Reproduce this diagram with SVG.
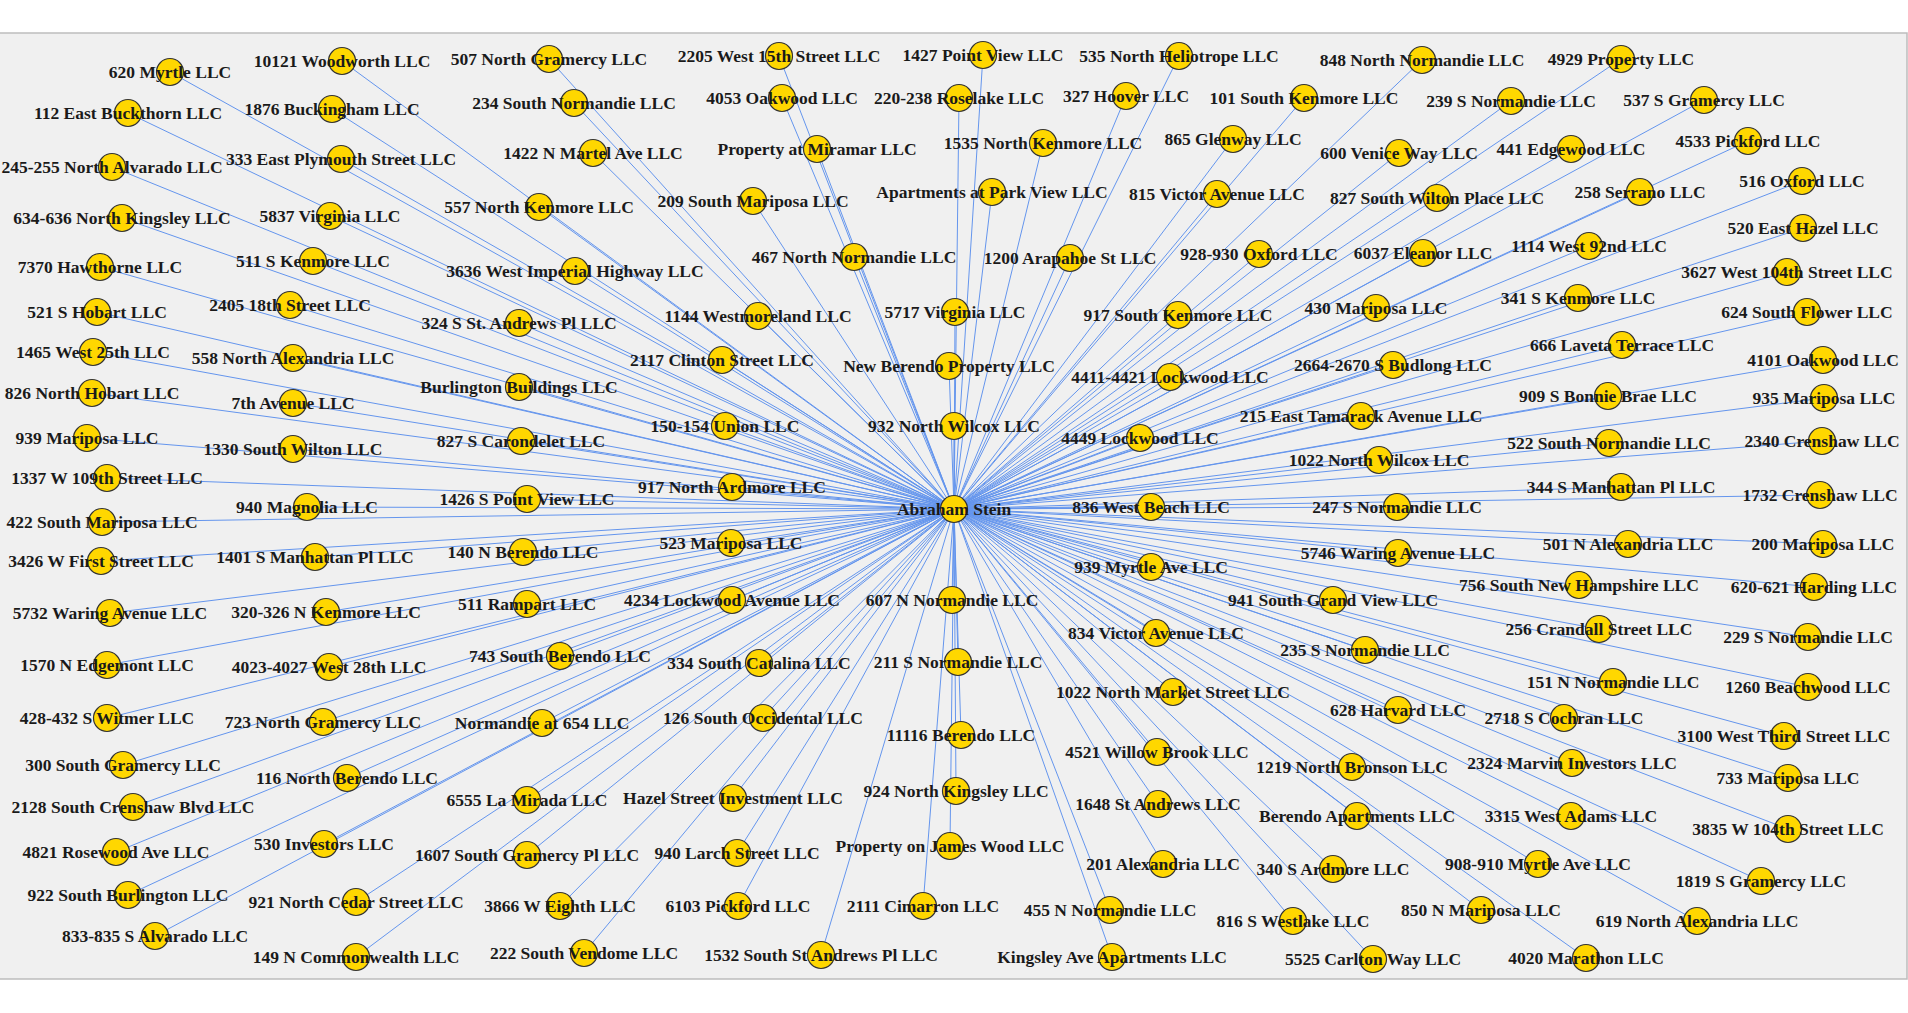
<svg xmlns="http://www.w3.org/2000/svg" width="1908" height="1013" viewBox="0 0 1908 1013">
<style>
.bg{fill:#f0f0f0;stroke:#bdbdbd;stroke-width:1.5}
.edges line{stroke:#6495ed;stroke-width:1}
.node circle{fill:#ffd700;stroke:#333;stroke-width:1.2}
.node text{font-family:"Liberation Serif","Times New Roman",serif;font-weight:bold;font-size:17.5px;text-anchor:middle;fill:#1a1a1a}
</style>
<rect width="1908" height="1013" fill="#ffffff"/>
<rect class="bg" x="-2" y="33" width="1909" height="946"/>
<g id="connectors" class="edges">
<line x1="954" y1="509" x2="170" y2="72"/>
<line x1="954" y1="509" x2="342" y2="61"/>
<line x1="954" y1="509" x2="128" y2="113"/>
<line x1="954" y1="509" x2="332" y2="109"/>
<line x1="954" y1="509" x2="112" y2="167"/>
<line x1="954" y1="509" x2="341" y2="159"/>
<line x1="954" y1="509" x2="122" y2="218"/>
<line x1="954" y1="509" x2="330" y2="216"/>
<line x1="954" y1="509" x2="100" y2="267"/>
<line x1="954" y1="509" x2="313" y2="261"/>
<line x1="954" y1="509" x2="97" y2="312"/>
<line x1="954" y1="509" x2="290" y2="305"/>
<line x1="954" y1="509" x2="93" y2="352"/>
<line x1="954" y1="509" x2="293" y2="358"/>
<line x1="954" y1="509" x2="549" y2="59"/>
<line x1="954" y1="509" x2="779" y2="56"/>
<line x1="954" y1="509" x2="574" y2="103"/>
<line x1="954" y1="509" x2="782" y2="98"/>
<line x1="954" y1="509" x2="593" y2="153"/>
<line x1="954" y1="509" x2="817" y2="149"/>
<line x1="954" y1="509" x2="539" y2="207"/>
<line x1="954" y1="509" x2="753" y2="201"/>
<line x1="954" y1="509" x2="854" y2="257"/>
<line x1="954" y1="509" x2="575" y2="271"/>
<line x1="954" y1="509" x2="758" y2="316"/>
<line x1="954" y1="509" x2="519" y2="323"/>
<line x1="954" y1="509" x2="722" y2="360"/>
<line x1="954" y1="509" x2="983" y2="55"/>
<line x1="954" y1="509" x2="1179" y2="56"/>
<line x1="954" y1="509" x2="1422" y2="60"/>
<line x1="954" y1="509" x2="959" y2="98"/>
<line x1="954" y1="509" x2="1126" y2="96"/>
<line x1="954" y1="509" x2="1304" y2="98"/>
<line x1="954" y1="509" x2="1043" y2="143"/>
<line x1="954" y1="509" x2="1233" y2="139"/>
<line x1="954" y1="509" x2="1399" y2="153"/>
<line x1="954" y1="509" x2="992" y2="192"/>
<line x1="954" y1="509" x2="1217" y2="194"/>
<line x1="954" y1="509" x2="1437" y2="198"/>
<line x1="954" y1="509" x2="1070" y2="258"/>
<line x1="954" y1="509" x2="1259" y2="254"/>
<line x1="954" y1="509" x2="1423" y2="253"/>
<line x1="954" y1="509" x2="955" y2="312"/>
<line x1="954" y1="509" x2="1178" y2="315"/>
<line x1="954" y1="509" x2="1376" y2="308"/>
<line x1="954" y1="509" x2="1621" y2="59"/>
<line x1="954" y1="509" x2="1511" y2="101"/>
<line x1="954" y1="509" x2="1704" y2="100"/>
<line x1="954" y1="509" x2="1571" y2="149"/>
<line x1="954" y1="509" x2="1748" y2="141"/>
<line x1="954" y1="509" x2="1640" y2="192"/>
<line x1="954" y1="509" x2="1802" y2="181"/>
<line x1="954" y1="509" x2="1803" y2="228"/>
<line x1="954" y1="509" x2="1589" y2="246"/>
<line x1="954" y1="509" x2="1787" y2="272"/>
<line x1="954" y1="509" x2="1578" y2="298"/>
<line x1="954" y1="509" x2="1807" y2="312"/>
<line x1="954" y1="509" x2="1622" y2="345"/>
<line x1="954" y1="509" x2="1823" y2="360"/>
<line x1="954" y1="509" x2="1393" y2="365"/>
<line x1="954" y1="509" x2="949" y2="366"/>
<line x1="954" y1="509" x2="519" y2="387"/>
<line x1="954" y1="509" x2="725" y2="426"/>
<line x1="954" y1="509" x2="954" y2="426"/>
<line x1="954" y1="509" x2="521" y2="441"/>
<line x1="954" y1="509" x2="732" y2="487"/>
<line x1="954" y1="509" x2="527" y2="499"/>
<line x1="954" y1="509" x2="731" y2="543"/>
<line x1="954" y1="509" x2="523" y2="552"/>
<line x1="954" y1="509" x2="732" y2="600"/>
<line x1="954" y1="509" x2="527" y2="604"/>
<line x1="954" y1="509" x2="952" y2="600"/>
<line x1="954" y1="509" x2="560" y2="656"/>
<line x1="954" y1="509" x2="759" y2="663"/>
<line x1="954" y1="509" x2="958" y2="662"/>
<line x1="954" y1="509" x2="1170" y2="377"/>
<line x1="954" y1="509" x2="1361" y2="416"/>
<line x1="954" y1="509" x2="1140" y2="438"/>
<line x1="954" y1="509" x2="1379" y2="460"/>
<line x1="954" y1="509" x2="1151" y2="507"/>
<line x1="954" y1="509" x2="1397" y2="507"/>
<line x1="954" y1="509" x2="1151" y2="567"/>
<line x1="954" y1="509" x2="1398" y2="553"/>
<line x1="954" y1="509" x2="1333" y2="600"/>
<line x1="954" y1="509" x2="1156" y2="633"/>
<line x1="954" y1="509" x2="1365" y2="650"/>
<line x1="954" y1="509" x2="1173" y2="692"/>
<line x1="954" y1="509" x2="1608" y2="396"/>
<line x1="954" y1="509" x2="1824" y2="398"/>
<line x1="954" y1="509" x2="1609" y2="443"/>
<line x1="954" y1="509" x2="1822" y2="441"/>
<line x1="954" y1="509" x2="1621" y2="487"/>
<line x1="954" y1="509" x2="1820" y2="495"/>
<line x1="954" y1="509" x2="1628" y2="544"/>
<line x1="954" y1="509" x2="1823" y2="544"/>
<line x1="954" y1="509" x2="1579" y2="585"/>
<line x1="954" y1="509" x2="1814" y2="587"/>
<line x1="954" y1="509" x2="1599" y2="629"/>
<line x1="954" y1="509" x2="1808" y2="637"/>
<line x1="954" y1="509" x2="1613" y2="682"/>
<line x1="954" y1="509" x2="1808" y2="687"/>
<line x1="954" y1="509" x2="92" y2="393"/>
<line x1="954" y1="509" x2="293" y2="403"/>
<line x1="954" y1="509" x2="87" y2="438"/>
<line x1="954" y1="509" x2="293" y2="449"/>
<line x1="954" y1="509" x2="107" y2="478"/>
<line x1="954" y1="509" x2="307" y2="507"/>
<line x1="954" y1="509" x2="102" y2="522"/>
<line x1="954" y1="509" x2="101" y2="561"/>
<line x1="954" y1="509" x2="315" y2="557"/>
<line x1="954" y1="509" x2="110" y2="613"/>
<line x1="954" y1="509" x2="326" y2="612"/>
<line x1="954" y1="509" x2="107" y2="665"/>
<line x1="954" y1="509" x2="329" y2="667"/>
<line x1="954" y1="509" x2="107" y2="718"/>
<line x1="954" y1="509" x2="323" y2="722"/>
<line x1="954" y1="509" x2="123" y2="765"/>
<line x1="954" y1="509" x2="347" y2="778"/>
<line x1="954" y1="509" x2="133" y2="807"/>
<line x1="954" y1="509" x2="116" y2="852"/>
<line x1="954" y1="509" x2="324" y2="844"/>
<line x1="954" y1="509" x2="128" y2="895"/>
<line x1="954" y1="509" x2="356" y2="902"/>
<line x1="954" y1="509" x2="155" y2="936"/>
<line x1="954" y1="509" x2="356" y2="957"/>
<line x1="954" y1="509" x2="542" y2="723"/>
<line x1="954" y1="509" x2="763" y2="718"/>
<line x1="954" y1="509" x2="961" y2="735"/>
<line x1="954" y1="509" x2="527" y2="800"/>
<line x1="954" y1="509" x2="733" y2="798"/>
<line x1="954" y1="509" x2="956" y2="791"/>
<line x1="954" y1="509" x2="527" y2="855"/>
<line x1="954" y1="509" x2="737" y2="853"/>
<line x1="954" y1="509" x2="950" y2="846"/>
<line x1="954" y1="509" x2="560" y2="906"/>
<line x1="954" y1="509" x2="738" y2="906"/>
<line x1="954" y1="509" x2="923" y2="906"/>
<line x1="954" y1="509" x2="584" y2="953"/>
<line x1="954" y1="509" x2="821" y2="955"/>
<line x1="954" y1="509" x2="1398" y2="710"/>
<line x1="954" y1="509" x2="1157" y2="752"/>
<line x1="954" y1="509" x2="1352" y2="767"/>
<line x1="954" y1="509" x2="1158" y2="804"/>
<line x1="954" y1="509" x2="1357" y2="816"/>
<line x1="954" y1="509" x2="1163" y2="864"/>
<line x1="954" y1="509" x2="1333" y2="869"/>
<line x1="954" y1="509" x2="1110" y2="910"/>
<line x1="954" y1="509" x2="1293" y2="921"/>
<line x1="954" y1="509" x2="1112" y2="957"/>
<line x1="954" y1="509" x2="1373" y2="959"/>
<line x1="954" y1="509" x2="1481" y2="910"/>
<line x1="954" y1="509" x2="1564" y2="718"/>
<line x1="954" y1="509" x2="1784" y2="736"/>
<line x1="954" y1="509" x2="1572" y2="763"/>
<line x1="954" y1="509" x2="1788" y2="778"/>
<line x1="954" y1="509" x2="1571" y2="816"/>
<line x1="954" y1="509" x2="1788" y2="829"/>
<line x1="954" y1="509" x2="1538" y2="864"/>
<line x1="954" y1="509" x2="1761" y2="881"/>
<line x1="954" y1="509" x2="1697" y2="921"/>
<line x1="954" y1="509" x2="1586" y2="958"/>
</g>
<g id="nodes">
<g id="n1" class="node" transform="translate(170,72)"><circle r="13.5"/><text y="6">620 Myrtle LLC</text></g>
<g id="n2" class="node" transform="translate(342,61)"><circle r="13.5"/><text y="6">10121 Woodworth LLC</text></g>
<g id="n3" class="node" transform="translate(128,113)"><circle r="13.5"/><text y="6">112 East Buckthorn LLC</text></g>
<g id="n4" class="node" transform="translate(332,109)"><circle r="13.5"/><text y="6">1876 Buckingham LLC</text></g>
<g id="n5" class="node" transform="translate(112,167)"><circle r="13.5"/><text y="6">245-255 North Alvarado LLC</text></g>
<g id="n6" class="node" transform="translate(341,159)"><circle r="13.5"/><text y="6">333 East Plymouth Street LLC</text></g>
<g id="n7" class="node" transform="translate(122,218)"><circle r="13.5"/><text y="6">634-636 North Kingsley LLC</text></g>
<g id="n8" class="node" transform="translate(330,216)"><circle r="13.5"/><text y="6">5837 Virginia LLC</text></g>
<g id="n9" class="node" transform="translate(100,267)"><circle r="13.5"/><text y="6">7370 Hawthorne LLC</text></g>
<g id="n10" class="node" transform="translate(313,261)"><circle r="13.5"/><text y="6">511 S Kenmore LLC</text></g>
<g id="n11" class="node" transform="translate(97,312)"><circle r="13.5"/><text y="6">521 S Hobart LLC</text></g>
<g id="n12" class="node" transform="translate(290,305)"><circle r="13.5"/><text y="6">2405 18th Street LLC</text></g>
<g id="n13" class="node" transform="translate(93,352)"><circle r="13.5"/><text y="6">1465 West 25th LLC</text></g>
<g id="n14" class="node" transform="translate(293,358)"><circle r="13.5"/><text y="6">558 North Alexandria LLC</text></g>
<g id="n15" class="node" transform="translate(549,59)"><circle r="13.5"/><text y="6">507 North Gramercy LLC</text></g>
<g id="n16" class="node" transform="translate(779,56)"><circle r="13.5"/><text y="6">2205 West 15th Street LLC</text></g>
<g id="n17" class="node" transform="translate(574,103)"><circle r="13.5"/><text y="6">234 South Normandie LLC</text></g>
<g id="n18" class="node" transform="translate(782,98)"><circle r="13.5"/><text y="6">4053 Oakwood LLC</text></g>
<g id="n19" class="node" transform="translate(593,153)"><circle r="13.5"/><text y="6">1422 N Martel Ave LLC</text></g>
<g id="n20" class="node" transform="translate(817,149)"><circle r="13.5"/><text y="6">Property at Miramar LLC</text></g>
<g id="n21" class="node" transform="translate(539,207)"><circle r="13.5"/><text y="6">557 North Kenmore LLC</text></g>
<g id="n22" class="node" transform="translate(753,201)"><circle r="13.5"/><text y="6">209 South Mariposa LLC</text></g>
<g id="n23" class="node" transform="translate(854,257)"><circle r="13.5"/><text y="6">467 North Normandie LLC</text></g>
<g id="n24" class="node" transform="translate(575,271)"><circle r="13.5"/><text y="6">3636 West Imperial Highway LLC</text></g>
<g id="n25" class="node" transform="translate(758,316)"><circle r="13.5"/><text y="6">1144 Westmoreland LLC</text></g>
<g id="n26" class="node" transform="translate(519,323)"><circle r="13.5"/><text y="6">324 S St. Andrews Pl LLC</text></g>
<g id="n27" class="node" transform="translate(722,360)"><circle r="13.5"/><text y="6">2117 Clinton Street LLC</text></g>
<g id="n28" class="node" transform="translate(983,55)"><circle r="13.5"/><text y="6">1427 Point View LLC</text></g>
<g id="n29" class="node" transform="translate(1179,56)"><circle r="13.5"/><text y="6">535 North Heliotrope LLC</text></g>
<g id="n30" class="node" transform="translate(1422,60)"><circle r="13.5"/><text y="6">848 North Normandie LLC</text></g>
<g id="n31" class="node" transform="translate(959,98)"><circle r="13.5"/><text y="6">220-238 Roselake LLC</text></g>
<g id="n32" class="node" transform="translate(1126,96)"><circle r="13.5"/><text y="6">327 Hoover LLC</text></g>
<g id="n33" class="node" transform="translate(1304,98)"><circle r="13.5"/><text y="6">101 South Kenmore LLC</text></g>
<g id="n34" class="node" transform="translate(1043,143)"><circle r="13.5"/><text y="6">1535 North Kenmore LLC</text></g>
<g id="n35" class="node" transform="translate(1233,139)"><circle r="13.5"/><text y="6">865 Glenway LLC</text></g>
<g id="n36" class="node" transform="translate(1399,153)"><circle r="13.5"/><text y="6">600 Venice Way LLC</text></g>
<g id="n37" class="node" transform="translate(992,192)"><circle r="13.5"/><text y="6">Apartments at Park View LLC</text></g>
<g id="n38" class="node" transform="translate(1217,194)"><circle r="13.5"/><text y="6">815 Victor Avenue LLC</text></g>
<g id="n39" class="node" transform="translate(1437,198)"><circle r="13.5"/><text y="6">827 South Wilton Place LLC</text></g>
<g id="n40" class="node" transform="translate(1070,258)"><circle r="13.5"/><text y="6">1200 Arapahoe St LLC</text></g>
<g id="n41" class="node" transform="translate(1259,254)"><circle r="13.5"/><text y="6">928-930 Oxford LLC</text></g>
<g id="n42" class="node" transform="translate(1423,253)"><circle r="13.5"/><text y="6">6037 Eleanor LLC</text></g>
<g id="n43" class="node" transform="translate(955,312)"><circle r="13.5"/><text y="6">5717 Virginia LLC</text></g>
<g id="n44" class="node" transform="translate(1178,315)"><circle r="13.5"/><text y="6">917 South Kenmore LLC</text></g>
<g id="n45" class="node" transform="translate(1376,308)"><circle r="13.5"/><text y="6">430 Mariposa LLC</text></g>
<g id="n46" class="node" transform="translate(1621,59)"><circle r="13.5"/><text y="6">4929 Property LLC</text></g>
<g id="n47" class="node" transform="translate(1511,101)"><circle r="13.5"/><text y="6">239 S Normandie LLC</text></g>
<g id="n48" class="node" transform="translate(1704,100)"><circle r="13.5"/><text y="6">537 S Gramercy LLC</text></g>
<g id="n49" class="node" transform="translate(1571,149)"><circle r="13.5"/><text y="6">441 Edgewood LLC</text></g>
<g id="n50" class="node" transform="translate(1748,141)"><circle r="13.5"/><text y="6">4533 Pickford LLC</text></g>
<g id="n51" class="node" transform="translate(1640,192)"><circle r="13.5"/><text y="6">258 Serrano LLC</text></g>
<g id="n52" class="node" transform="translate(1802,181)"><circle r="13.5"/><text y="6">516 Oxford LLC</text></g>
<g id="n53" class="node" transform="translate(1803,228)"><circle r="13.5"/><text y="6">520 East Hazel LLC</text></g>
<g id="n54" class="node" transform="translate(1589,246)"><circle r="13.5"/><text y="6">1114 West 92nd LLC</text></g>
<g id="n55" class="node" transform="translate(1787,272)"><circle r="13.5"/><text y="6">3627 West 104th Street LLC</text></g>
<g id="n56" class="node" transform="translate(1578,298)"><circle r="13.5"/><text y="6">341 S Kenmore LLC</text></g>
<g id="n57" class="node" transform="translate(1807,312)"><circle r="13.5"/><text y="6">624 South Flower LLC</text></g>
<g id="n58" class="node" transform="translate(1622,345)"><circle r="13.5"/><text y="6">666 Laveta Terrace LLC</text></g>
<g id="n59" class="node" transform="translate(1823,360)"><circle r="13.5"/><text y="6">4101 Oakwood LLC</text></g>
<g id="n60" class="node" transform="translate(1393,365)"><circle r="13.5"/><text y="6">2664-2670 S Budlong LLC</text></g>
<g id="n61" class="node" transform="translate(949,366)"><circle r="13.5"/><text y="6">New Berendo Property LLC</text></g>
<g id="n62" class="node" transform="translate(519,387)"><circle r="13.5"/><text y="6">Burlington Buildings LLC</text></g>
<g id="n63" class="node" transform="translate(725,426)"><circle r="13.5"/><text y="6">150-154 Union LLC</text></g>
<g id="n64" class="node" transform="translate(954,426)"><circle r="13.5"/><text y="6">932 North Wilcox LLC</text></g>
<g id="n65" class="node" transform="translate(521,441)"><circle r="13.5"/><text y="6">827 S Carondelet LLC</text></g>
<g id="n66" class="node" transform="translate(732,487)"><circle r="13.5"/><text y="6">917 North Ardmore LLC</text></g>
<g id="n68" class="node" transform="translate(527,499)"><circle r="13.5"/><text y="6">1426 S Point View LLC</text></g>
<g id="n69" class="node" transform="translate(731,543)"><circle r="13.5"/><text y="6">523 Mariposa LLC</text></g>
<g id="n70" class="node" transform="translate(523,552)"><circle r="13.5"/><text y="6">140 N Berendo LLC</text></g>
<g id="n71" class="node" transform="translate(732,600)"><circle r="13.5"/><text y="6">4234 Lockwood Avenue LLC</text></g>
<g id="n72" class="node" transform="translate(527,604)"><circle r="13.5"/><text y="6">511 Rampart LLC</text></g>
<g id="n73" class="node" transform="translate(952,600)"><circle r="13.5"/><text y="6">607 N Normandie LLC</text></g>
<g id="n74" class="node" transform="translate(560,656)"><circle r="13.5"/><text y="6">743 South Berendo LLC</text></g>
<g id="n75" class="node" transform="translate(759,663)"><circle r="13.5"/><text y="6">334 South Catalina LLC</text></g>
<g id="n76" class="node" transform="translate(958,662)"><circle r="13.5"/><text y="6">211 S Normandie LLC</text></g>
<g id="n77" class="node" transform="translate(1170,377)"><circle r="13.5"/><text y="6">4411-4421 Lockwood LLC</text></g>
<g id="n78" class="node" transform="translate(1361,416)"><circle r="13.5"/><text y="6">215 East Tamarack Avenue LLC</text></g>
<g id="n79" class="node" transform="translate(1140,438)"><circle r="13.5"/><text y="6">4449 Lockwood LLC</text></g>
<g id="n80" class="node" transform="translate(1379,460)"><circle r="13.5"/><text y="6">1022 North Wilcox LLC</text></g>
<g id="n81" class="node" transform="translate(1151,507)"><circle r="13.5"/><text y="6">836 West Beach LLC</text></g>
<g id="n82" class="node" transform="translate(1397,507)"><circle r="13.5"/><text y="6">247 S Normandie LLC</text></g>
<g id="n83" class="node" transform="translate(1151,567)"><circle r="13.5"/><text y="6">939 Myrtle Ave LLC</text></g>
<g id="n84" class="node" transform="translate(1398,553)"><circle r="13.5"/><text y="6">5746 Waring Avenue LLC</text></g>
<g id="n85" class="node" transform="translate(1333,600)"><circle r="13.5"/><text y="6">941 South Grand View LLC</text></g>
<g id="n86" class="node" transform="translate(1156,633)"><circle r="13.5"/><text y="6">834 Victor Avenue LLC</text></g>
<g id="n87" class="node" transform="translate(1365,650)"><circle r="13.5"/><text y="6">235 S Normandie LLC</text></g>
<g id="n88" class="node" transform="translate(1173,692)"><circle r="13.5"/><text y="6">1022 North Market Street LLC</text></g>
<g id="n89" class="node" transform="translate(1608,396)"><circle r="13.5"/><text y="6">909 S Bonnie Brae LLC</text></g>
<g id="n90" class="node" transform="translate(1824,398)"><circle r="13.5"/><text y="6">935 Mariposa LLC</text></g>
<g id="n91" class="node" transform="translate(1609,443)"><circle r="13.5"/><text y="6">522 South Normandie LLC</text></g>
<g id="n92" class="node" transform="translate(1822,441)"><circle r="13.5"/><text y="6">2340 Crenshaw LLC</text></g>
<g id="n93" class="node" transform="translate(1621,487)"><circle r="13.5"/><text y="6">344 S Manhattan Pl LLC</text></g>
<g id="n94" class="node" transform="translate(1820,495)"><circle r="13.5"/><text y="6">1732 Crenshaw LLC</text></g>
<g id="n95" class="node" transform="translate(1628,544)"><circle r="13.5"/><text y="6">501 N Alexandria LLC</text></g>
<g id="n96" class="node" transform="translate(1823,544)"><circle r="13.5"/><text y="6">200 Mariposa LLC</text></g>
<g id="n97" class="node" transform="translate(1579,585)"><circle r="13.5"/><text y="6">756 South New Hampshire LLC</text></g>
<g id="n98" class="node" transform="translate(1814,587)"><circle r="13.5"/><text y="6">620-621 Harding LLC</text></g>
<g id="n99" class="node" transform="translate(1599,629)"><circle r="13.5"/><text y="6">256 Crandall Street LLC</text></g>
<g id="n100" class="node" transform="translate(1808,637)"><circle r="13.5"/><text y="6">229 S Normandie LLC</text></g>
<g id="n101" class="node" transform="translate(1613,682)"><circle r="13.5"/><text y="6">151 N Normandie LLC</text></g>
<g id="n102" class="node" transform="translate(1808,687)"><circle r="13.5"/><text y="6">1260 Beachwood LLC</text></g>
<g id="n103" class="node" transform="translate(92,393)"><circle r="13.5"/><text y="6">826 North Hobart LLC</text></g>
<g id="n104" class="node" transform="translate(293,403)"><circle r="13.5"/><text y="6">7th Avenue LLC</text></g>
<g id="n105" class="node" transform="translate(87,438)"><circle r="13.5"/><text y="6">939 Mariposa LLC</text></g>
<g id="n106" class="node" transform="translate(293,449)"><circle r="13.5"/><text y="6">1330 South Wilton LLC</text></g>
<g id="n107" class="node" transform="translate(107,478)"><circle r="13.5"/><text y="6">1337 W 109th Street LLC</text></g>
<g id="n108" class="node" transform="translate(307,507)"><circle r="13.5"/><text y="6">940 Magnolia LLC</text></g>
<g id="n109" class="node" transform="translate(102,522)"><circle r="13.5"/><text y="6">422 South Mariposa LLC</text></g>
<g id="n110" class="node" transform="translate(101,561)"><circle r="13.5"/><text y="6">3426 W First Street LLC</text></g>
<g id="n111" class="node" transform="translate(315,557)"><circle r="13.5"/><text y="6">1401 S Manhattan Pl LLC</text></g>
<g id="n112" class="node" transform="translate(110,613)"><circle r="13.5"/><text y="6">5732 Waring Avenue LLC</text></g>
<g id="n113" class="node" transform="translate(326,612)"><circle r="13.5"/><text y="6">320-326 N Kenmore LLC</text></g>
<g id="n114" class="node" transform="translate(107,665)"><circle r="13.5"/><text y="6">1570 N Edgemont LLC</text></g>
<g id="n115" class="node" transform="translate(329,667)"><circle r="13.5"/><text y="6">4023-4027 West 28th LLC</text></g>
<g id="n116" class="node" transform="translate(107,718)"><circle r="13.5"/><text y="6">428-432 S Witmer LLC</text></g>
<g id="n117" class="node" transform="translate(323,722)"><circle r="13.5"/><text y="6">723 North Gramercy LLC</text></g>
<g id="n118" class="node" transform="translate(123,765)"><circle r="13.5"/><text y="6">300 South Gramercy LLC</text></g>
<g id="n119" class="node" transform="translate(347,778)"><circle r="13.5"/><text y="6">116 North Berendo LLC</text></g>
<g id="n120" class="node" transform="translate(133,807)"><circle r="13.5"/><text y="6">2128 South Crenshaw Blvd LLC</text></g>
<g id="n121" class="node" transform="translate(116,852)"><circle r="13.5"/><text y="6">4821 Rosewood Ave LLC</text></g>
<g id="n122" class="node" transform="translate(324,844)"><circle r="13.5"/><text y="6">530 Investors LLC</text></g>
<g id="n123" class="node" transform="translate(128,895)"><circle r="13.5"/><text y="6">922 South Burlington LLC</text></g>
<g id="n124" class="node" transform="translate(356,902)"><circle r="13.5"/><text y="6">921 North Cedar Street LLC</text></g>
<g id="n125" class="node" transform="translate(155,936)"><circle r="13.5"/><text y="6">833-835 S Alvarado LLC</text></g>
<g id="n126" class="node" transform="translate(356,957)"><circle r="13.5"/><text y="6">149 N Commonwealth LLC</text></g>
<g id="n127" class="node" transform="translate(542,723)"><circle r="13.5"/><text y="6">Normandie at 654 LLC</text></g>
<g id="n128" class="node" transform="translate(763,718)"><circle r="13.5"/><text y="6">126 South Occidental LLC</text></g>
<g id="n129" class="node" transform="translate(961,735)"><circle r="13.5"/><text y="6">11116 Berendo LLC</text></g>
<g id="n130" class="node" transform="translate(527,800)"><circle r="13.5"/><text y="6">6555 La Mirada LLC</text></g>
<g id="n131" class="node" transform="translate(733,798)"><circle r="13.5"/><text y="6">Hazel Street Investment LLC</text></g>
<g id="n132" class="node" transform="translate(956,791)"><circle r="13.5"/><text y="6">924 North Kingsley LLC</text></g>
<g id="n133" class="node" transform="translate(527,855)"><circle r="13.5"/><text y="6">1607 South Gramercy Pl LLC</text></g>
<g id="n134" class="node" transform="translate(737,853)"><circle r="13.5"/><text y="6">940 Larch Street LLC</text></g>
<g id="n135" class="node" transform="translate(950,846)"><circle r="13.5"/><text y="6">Property on James Wood LLC</text></g>
<g id="n136" class="node" transform="translate(560,906)"><circle r="13.5"/><text y="6">3866 W Eighth LLC</text></g>
<g id="n137" class="node" transform="translate(738,906)"><circle r="13.5"/><text y="6">6103 Pickford LLC</text></g>
<g id="n138" class="node" transform="translate(923,906)"><circle r="13.5"/><text y="6">2111 Cimarron LLC</text></g>
<g id="n139" class="node" transform="translate(584,953)"><circle r="13.5"/><text y="6">222 South Vendome LLC</text></g>
<g id="n140" class="node" transform="translate(821,955)"><circle r="13.5"/><text y="6">1532 South St Andrews Pl LLC</text></g>
<g id="n141" class="node" transform="translate(1398,710)"><circle r="13.5"/><text y="6">628 Harvard LLC</text></g>
<g id="n142" class="node" transform="translate(1157,752)"><circle r="13.5"/><text y="6">4521 Willow Brook LLC</text></g>
<g id="n143" class="node" transform="translate(1352,767)"><circle r="13.5"/><text y="6">1219 North Bronson LLC</text></g>
<g id="n144" class="node" transform="translate(1158,804)"><circle r="13.5"/><text y="6">1648 St Andrews LLC</text></g>
<g id="n145" class="node" transform="translate(1357,816)"><circle r="13.5"/><text y="6">Berendo Apartments LLC</text></g>
<g id="n146" class="node" transform="translate(1163,864)"><circle r="13.5"/><text y="6">201 Alexandria LLC</text></g>
<g id="n147" class="node" transform="translate(1333,869)"><circle r="13.5"/><text y="6">340 S Ardmore LLC</text></g>
<g id="n148" class="node" transform="translate(1110,910)"><circle r="13.5"/><text y="6">455 N Normandie LLC</text></g>
<g id="n149" class="node" transform="translate(1293,921)"><circle r="13.5"/><text y="6">816 S Westlake LLC</text></g>
<g id="n150" class="node" transform="translate(1112,957)"><circle r="13.5"/><text y="6">Kingsley Ave Apartments LLC</text></g>
<g id="n151" class="node" transform="translate(1373,959)"><circle r="13.5"/><text y="6">5525 Carlton Way LLC</text></g>
<g id="n152" class="node" transform="translate(1481,910)"><circle r="13.5"/><text y="6">850 N Mariposa LLC</text></g>
<g id="n153" class="node" transform="translate(1564,718)"><circle r="13.5"/><text y="6">2718 S Cochran LLC</text></g>
<g id="n154" class="node" transform="translate(1784,736)"><circle r="13.5"/><text y="6">3100 West Third Street LLC</text></g>
<g id="n155" class="node" transform="translate(1572,763)"><circle r="13.5"/><text y="6">2324 Marvin Investors LLC</text></g>
<g id="n156" class="node" transform="translate(1788,778)"><circle r="13.5"/><text y="6">733 Mariposa LLC</text></g>
<g id="n157" class="node" transform="translate(1571,816)"><circle r="13.5"/><text y="6">3315 West Adams LLC</text></g>
<g id="n158" class="node" transform="translate(1788,829)"><circle r="13.5"/><text y="6">3835 W 104th Street LLC</text></g>
<g id="n159" class="node" transform="translate(1538,864)"><circle r="13.5"/><text y="6">908-910 Myrtle Ave LLC</text></g>
<g id="n160" class="node" transform="translate(1761,881)"><circle r="13.5"/><text y="6">1819 S Gramercy LLC</text></g>
<g id="n161" class="node" transform="translate(1697,921)"><circle r="13.5"/><text y="6">619 North Alexandria LLC</text></g>
<g id="n162" class="node" transform="translate(1586,958)"><circle r="13.5"/><text y="6">4020 Marathon LLC</text></g>
<g id="hub" class="node" transform="translate(954,509)"><circle r="13.5"/><text y="6">Abraham Stein</text></g>
</g>
</svg>
